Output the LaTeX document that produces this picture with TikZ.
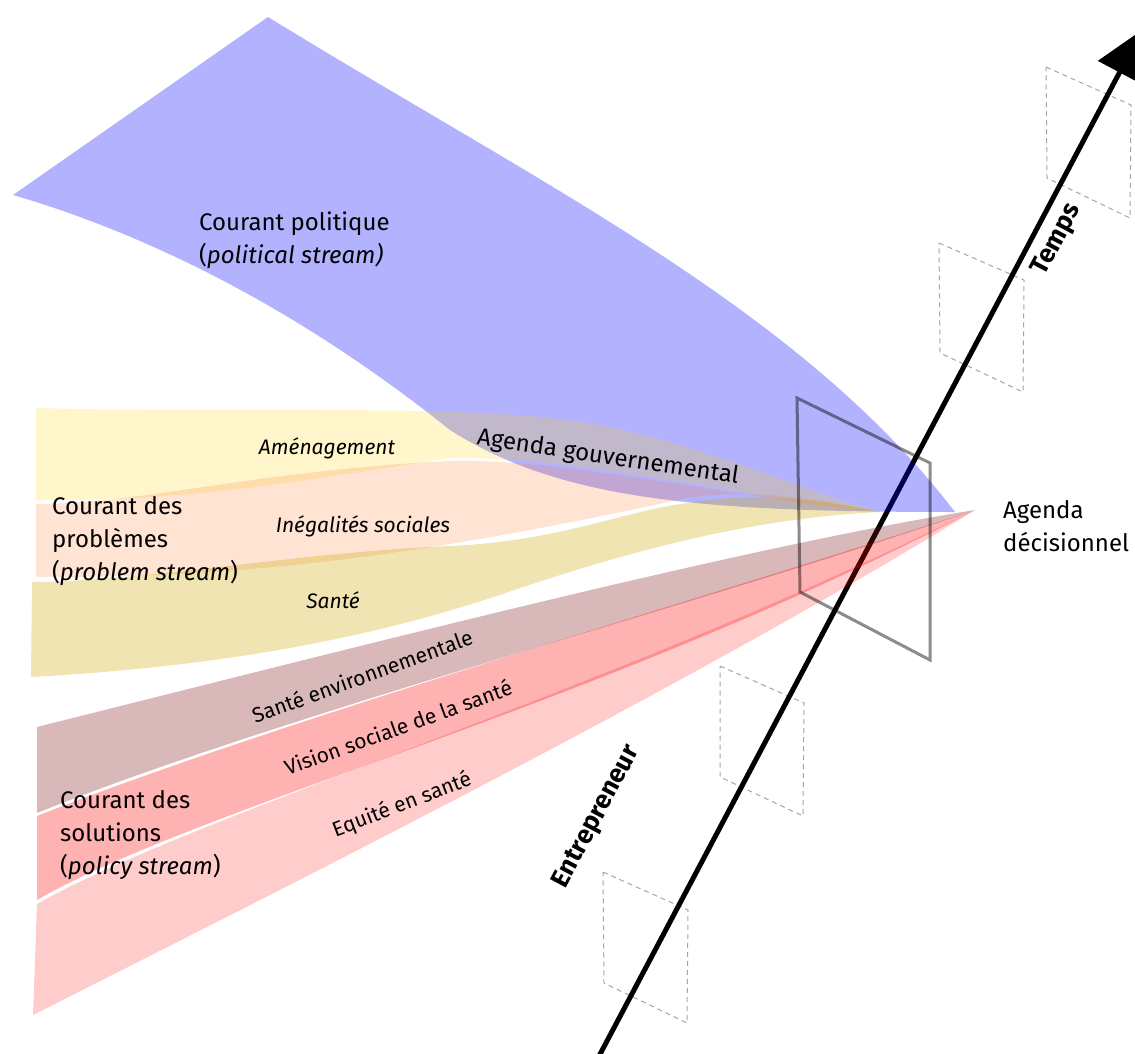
\documentclass[tikz,border=0pt]{standalone}
\usepackage{fontspec}
\setmainfont{Fira Sans}
\usetikzlibrary{arrows.meta}
\definecolor{amenbase}{RGB}{255,210,0}
\definecolor{inegbase}{RGB}{255,120,40}
\definecolor{santebase}{RGB}{205,170,0}
\definecolor{senvbase}{RGB}{125,20,20}
\definecolor{planegray}{RGB}{165,165,165}
\tikzset{
  polband/.style={fill=blue, fill opacity=0.3},
  amenband/.style={fill=amenbase, fill opacity=0.2},
  inegband/.style={fill=inegbase, fill opacity=0.2},
  santeband/.style={fill=santebase, fill opacity=0.3},
  senvband/.style={fill=senvbase, fill opacity=0.3},
  visband/.style={fill=red, fill opacity=0.3},
  equiband/.style={fill=red, fill opacity=0.2},
  ghostplane/.style={draw=planegray, dash pattern=on 5pt off 4pt, line width=1pt},
  mainplane/.style={draw=black, draw opacity=0.45, line width=3pt, line join=miter},
  timeaxis/.style={line width=5pt, -{Triangle[length=48pt,width=48pt]}},
  headtxt/.style={font=\fontsize{24}{33}\selectfont, align=left, inner sep=0pt},
  probtxt/.style={font=\fontsize{21}{25}\selectfont\itshape, inner sep=0pt},
  soltxt/.style={font=\fontsize{21}{25}\selectfont, inner sep=0pt},
  axtxt/.style={font=\fontsize{26}{30}\selectfont\bfseries, inner sep=0pt}
}
\begin{document}
\begin{tikzpicture}[x=1pt,y=-1pt]
\useasboundingbox (0,0) rectangle (1135,1054);
% ghost planes
\draw[ghostplane] (1046,67) -- (1131,105) -- (1130,218) -- (1047,178) -- cycle;
\draw[ghostplane] (939,243) -- (1024,280) -- (1023,392) -- (940,353) -- cycle;
\draw[ghostplane] (720,666) -- (804,703) -- (803,816) -- (720,777) -- cycle;
\draw[ghostplane] (603,872) -- (688,910) -- (687,1023) -- (604,983) -- cycle;
% time axis
\coordinate (tstart) at (598,1058);
\coordinate (tend) at (1142,30);
\draw[timeaxis] (tstart) -- (tend);
% political stream
\fill[polband] (13,195) -- (268,17) .. controls (550,190) and (800,310) .. (955,512)
  .. controls (700,512) and (560,500) .. (450,430)
  .. controls (300,310) and (150,235) .. (13,195) -- cycle;
% problem streams
\fill[amenband] (36,408) .. controls (250,414) and (480,402) .. (600,425)
  .. controls (720,450) and (800,490) .. (880,512)
  .. controls (760,500) and (570,455) .. (450,458)
  .. controls (330,476) and (200,502) .. (36,500) -- cycle;
\fill[inegband] (36,504) .. controls (140,504) and (260,470) .. (450,461)
  .. controls (570,458) and (760,502) .. (880,512)
  .. controls (820,500) and (760,488) .. (687,498)
  .. controls (420,556) and (250,578) .. (36,577) -- cycle;
\fill[santeband] (32,582) .. controls (150,581) and (300,552) .. (450,546)
  .. controls (560,541) and (620,512) .. (687,503)
  .. controls (760,491) and (820,500) .. (880,512)
  .. controls (760,518) and (650,545) .. (520,588)
  .. controls (400,630) and (250,665) .. (31,677) -- cycle;
% solution streams
\fill[senvband] (37,727) .. controls (400,636) and (750,546) .. (975,510)
  .. controls (700,605) and (280,715) .. (37,813) -- cycle;
\fill[visband] (37,816) .. controls (280,720) and (700,600) .. (975,510)
  .. controls (600,706) and (200,806) .. (37,900) -- cycle;
\fill[equiband] (37,904) .. controls (200,812) and (600,696) .. (975,510)
  .. controls (700,680) and (300,880) .. (33,1015) -- cycle;
% decision plane
\draw[mainplane] (797,398) -- (930,463) -- (930,660) -- (800,592) -- cycle;
% texts
\node[headtxt, anchor=west] (cpol) at (199,240) {Courant politique\\(\textit{political stream)}};
\node[headtxt, anchor=west] (cprob) at (52,541) {Courant des\\problèmes\\(\textit{problem stream})};
\node[headtxt, anchor=west] (csol) at (60,835) {Courant des\\solutions\\(\textit{policy stream})};
\node[headtxt, anchor=west] (adec) at (1003,526) {Agenda\\décisionnel};
\node[headtxt, rotate=-8.5] (agouv) at (608,458) {Agenda gouvernemental};
\node[probtxt] (lamen) at (327,448) {Aménagement};
\node[probtxt] (lineg) at (363,526) {Inégalités sociales};
\node[probtxt] (lsante) at (333,600) {Santé};
\node[soltxt, rotate=20] (lsenv) at (362,676) {Santé environnementale};
\node[soltxt, rotate=20] (lvis) at (398,727) {Vision sociale de la santé};
\node[soltxt, rotate=21] (lequi) at (402,805) {Equité en santé};
\node[axtxt, rotate=62] (ltemps) at (1057,240) {Temps};
\node[axtxt, rotate=62] (lentr) at (597,817) {Entrepreneur};
\end{tikzpicture}
\end{document}
